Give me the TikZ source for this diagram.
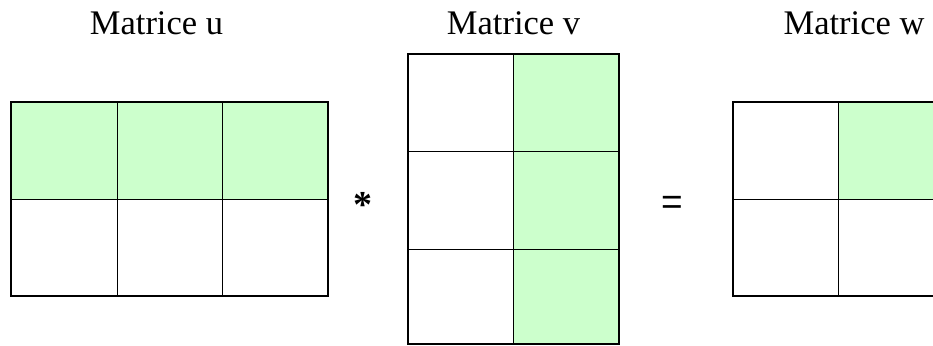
\documentclass[tikz,border=0pt]{standalone}
\usepackage{fontspec}
\setmainfont{Liberation Serif}
\newfontfamily\opfont{Liberation Sans}
\definecolor{cellgreen}{HTML}{CCFFCC}
\tikzset{
  x=1pt, y=-1pt,
  title/.style={anchor=base, inner sep=0pt, font=\fontsize{34.5}{40}\selectfont},
  op/.style={inner sep=0pt},
  hot/.style={fill=cellgreen},
  grid/.style={line width=1pt, draw=black},
  frame/.style={line width=1.8pt, draw=black}
}
\begin{document}
\begin{tikzpicture}
\useasboundingbox (0,0) rectangle (933,345);
\clip (0,0) rectangle (933,345);
\fill[white] (0,0) rectangle (933,345);
% titles
\node[title] (tu) at (156.5,35) {Matrice u};
\node[title] (tv) at (513.5,35) {Matrice v};
\node[title] (tw) at (854,35) {Matrice w};
% matrix u (2 x 3), first row highlighted
\fill[hot] (11,102) rectangle (328,199);
\draw[grid] (11,199) -- (328,199);
\draw[grid] (117,102) -- (117,296);
\draw[grid] (222,102) -- (222,296);
\draw[frame] (11,102) rectangle (328,296);
% matrix v (3 x 2), second column highlighted
\fill[hot] (513,54) rectangle (619,344);
\draw[grid] (408,151) -- (619,151);
\draw[grid] (408,249) -- (619,249);
\draw[grid] (513,54) -- (513,344);
\draw[frame] (408,54) rectangle (619,344);
% matrix w (2 x 2), cell (1,2) highlighted
\fill[hot] (838,102) rectangle (943,199);
\draw[grid] (733,199) -- (943,199);
\draw[grid] (838,102) -- (838,296);
\draw[frame] (733,102) rectangle (943,296);
% operators
\node[op, anchor=base, font=\bfseries\fontsize{38}{44}\selectfont] (star) at (362.5,217) {*};
\node[op, font=\opfont\fontsize{37}{44}\selectfont] (eq) at (672,205) {=};
\end{tikzpicture}
\end{document}
